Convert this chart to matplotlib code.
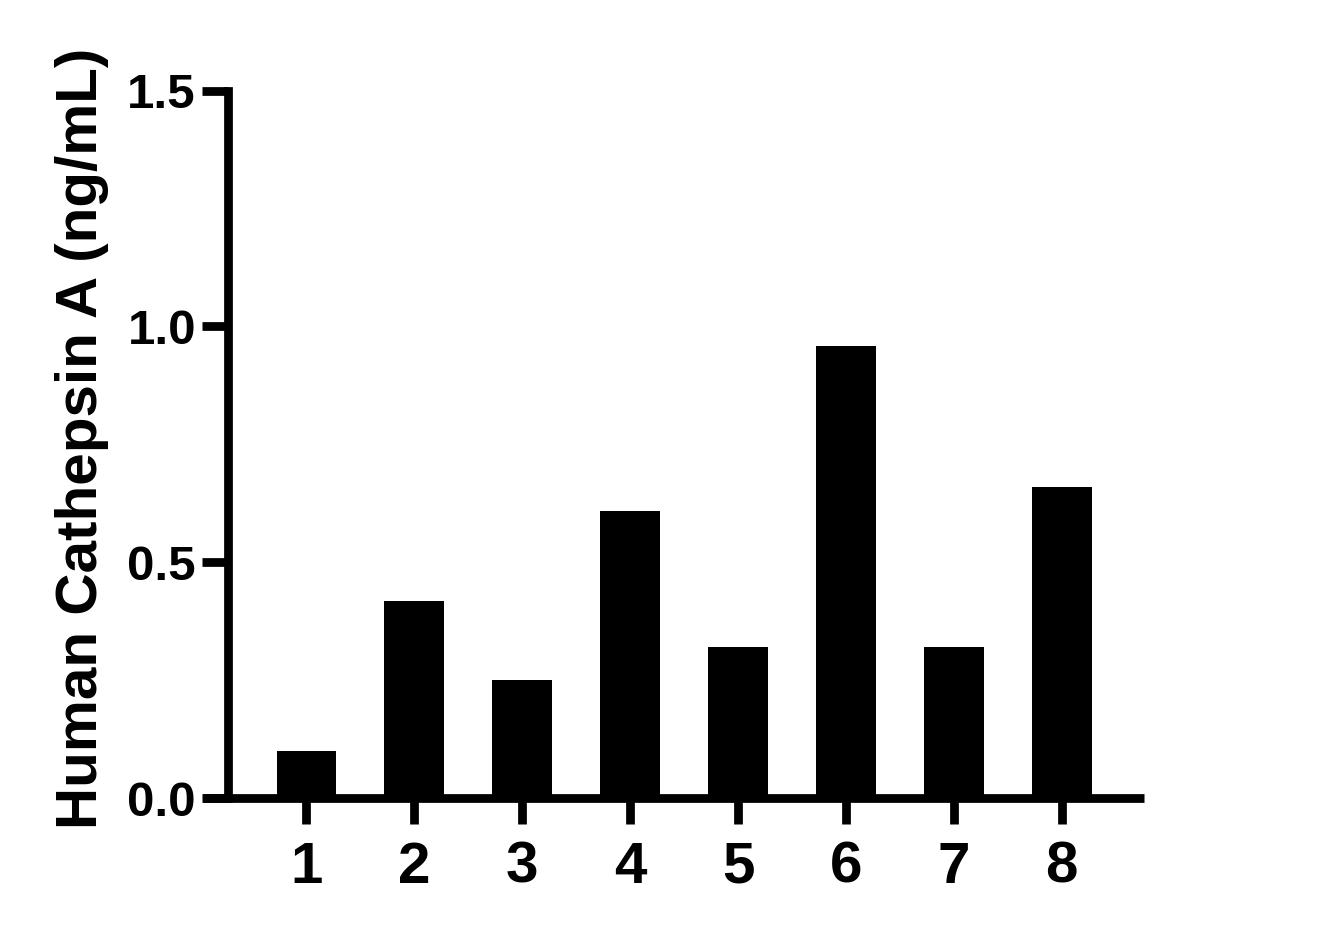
import matplotlib
matplotlib.use("Agg")
import matplotlib.pyplot as plt

categories = ["1", "2", "3", "4", "5", "6", "7", "8"]
values = [0.100, 0.418, 0.251, 0.609, 0.321, 0.958, 0.321, 0.660]
y_ticks = [0.0, 0.5, 1.0, 1.5]
y_tick_labels = ["0.0", "0.5", "1.0", "1.5"]
y_label = "Human Cathepsin A (ng/mL)"

plt.rcParams['font.family'] = ['Liberation Sans', 'DejaVu Sans']
plt.rcParams['font.weight'] = 'bold'

W, H = 1320, 938
fig = plt.figure(figsize=(W / 100, H / 100), dpi=100)
left_px, right_px = 203, 1144
bottom_px, top_px = 798.3, 90.5
ax = fig.add_axes([left_px / W, (H - bottom_px) / H,
                   (right_px - left_px) / W, (bottom_px - top_px) / H])

x = list(range(1, len(categories) + 1))
ax.bar(x, values, width=0.555, color='black', edgecolor='none', zorder=2)

ax.set_xlim(0.041, 8.762)
ax.set_ylim(0, 1.5)

lw = 6.3
for s in ['top', 'right']:
    ax.spines[s].set_visible(False)
ax.spines['left'].set_linewidth(lw)
ax.spines['bottom'].set_linewidth(lw)
ax.spines['bottom'].set_capstyle('butt')
ax.spines['left'].set_position(('data', 0.277))
ax.spines['left'].set_zorder(3)
ax.spines['bottom'].set_zorder(3)

ax.set_xticks(x)
ax.set_xticklabels(categories, fontsize=42, fontweight='bold')
ax.set_yticks(y_ticks)
ax.set_yticklabels(y_tick_labels, fontsize=35.5, fontweight='bold')
ax.tick_params(axis='x', direction='out', length=18.5, width=lw, pad=12)
ax.tick_params(axis='y', direction='out', length=18.4, width=lw, pad=5)

ax.set_ylabel(y_label, fontsize=42, fontweight='bold')
ax.yaxis.set_label_coords(-0.1004, 0.508)

fig.savefig("out.png", dpi=100)
